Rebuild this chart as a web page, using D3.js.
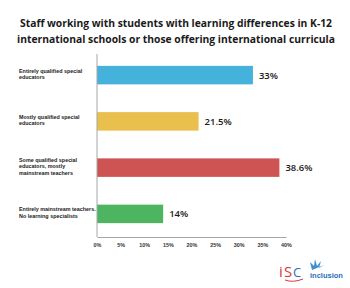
<!DOCTYPE html>
<html><head><meta charset="utf-8">
<script src="https://cdn.jsdelivr.net/npm/d3@7"></script>
<style>body{margin:0;background:#fff}svg{display:block}</style>
</head><body>
<svg id="c" width="350" height="288"></svg>
<script>
const categories = [
  ["Entirely qualified special", "educators"],
  ["Mostly qualified special", "educators"],
  ["Some qualified special", "educators, mostly", "mainstream teachers"],
  ["Entirely mainstream teachers.", "No learning specialists"]
];
const values = [33, 21.5, 38.6, 14];
const valueLabels = ["33%", "21.5%", "38.6%", "14%"];
const colors = ["#45b2dc", "#e9c04e", "#cd5452", "#4db460"];
const ticks = [0, 5, 10, 15, 20, 25, 30, 35, 40];
const title = ["Staff working with students with learning differences in K-12",
               "international schools or those offering international curricula"];

const svg = d3.select("#c");
const font = "'Open Sans', 'Liberation Sans', sans-serif";
const smallFont = "'Liberation Sans', Arial, sans-serif";

const x = d3.scaleLinear().domain([0, 40]).range([97, 286]);
const y = d3.scaleBand().domain(d3.range(categories.length)).range([52, 237]).paddingInner(0.6).paddingOuter(0.3);

// title
svg.append("g").selectAll("text").data(title).join("text")
  .attr("x", 176).attr("y", (d, i) => 27 + i * 15.5)
  .attr("text-anchor", "middle").attr("font-family", font)
  .attr("font-weight", "bold").attr("font-size", 10.6).attr("fill", "#1a1a1a")
  .attr("textLength", (d,i)=> i===0 ? 312 : 318).attr("lengthAdjust","spacingAndGlyphs")
  .text(d => d);

// bars
svg.append("g").selectAll("rect").data(values).join("rect")
  .attr("x", x(0)).attr("y", (d, i) => y(i))
  .attr("width", d => x(d) - x(0)).attr("height", y.bandwidth())
  .attr("fill", (d, i) => colors[i]);

// value labels
svg.append("g").selectAll("text").data(values).join("text")
  .attr("x", d => x(d) + 6).attr("y", (d, i) => y(i) + y.bandwidth() / 2 + 3.5)
  .attr("font-family", font).attr("font-weight", "600").attr("font-size", 9.5)
  .attr("fill", "#1a1a1a").text((d, i) => valueLabels[i]);

// category labels
const cat = svg.append("g").selectAll("text").data(categories).join("text")
  .attr("font-family", smallFont).attr("font-size", 5.4).attr("font-weight", "bold").attr("fill", "#222")
  .attr("y", (d, i) => y(i) + y.bandwidth() / 2 - 1.5 - (d.length - 1) * 3 + 2);
cat.selectAll("tspan").data(d => d).join("tspan")
  .attr("x", 19).attr("dy", (d, j) => j === 0 ? 0 : 6.2).text(d => d);

// axes
const xAxis = d3.axisBottom(x).tickValues(ticks).tickSize(0).tickPadding(6).tickFormat(d => d + "%");
const gx = svg.append("g").attr("transform", "translate(0,237)").call(xAxis);
gx.select(".domain").attr("stroke", "#a6a6a6");
gx.selectAll("text").attr("font-family", smallFont).attr("font-size", 5.4).attr("font-weight", "bold").attr("fill", "#333");

svg.append("line").attr("x1", x(0)).attr("x2", x(0)).attr("y1", 54).attr("y2", 237)
  .attr("stroke", "#a6a6a6").attr("stroke-width", 1);

// logos
const lg = svg.append("g");
lg.append("text").attr("x", 279).attr("y", 277).attr("font-family", font).attr("font-size", 15)
  .attr("fill", "#d23a3a").text("i");
lg.append("text").attr("x", 284).attr("y", 277).attr("font-family", font).attr("font-size", 15)
  .attr("fill", "#d23a3a").text("S");
lg.append("text").attr("x", 293).attr("y", 277).attr("font-family", font).attr("font-size", 13)
  .attr("fill", "#2a6fb5").text("C");
lg.append("path").attr("d", "M285,280 Q293,283 303,279").attr("stroke", "#d23a3a").attr("fill", "none").attr("stroke-width", 1);
lg.append("text").attr("x", 310).attr("y", 278).attr("font-family", smallFont).attr("font-size", 7.5)
  .attr("font-weight", "bold").attr("fill", "#2a6fb5").text("inclusion");
lg.append("path").attr("d", "M312,270 L310,262 L314,266 L315,259 L317,266 L321,261 L319,268 L324,265 Z")
  .attr("fill", "#3d8fd0");
</script>
</body></html>
